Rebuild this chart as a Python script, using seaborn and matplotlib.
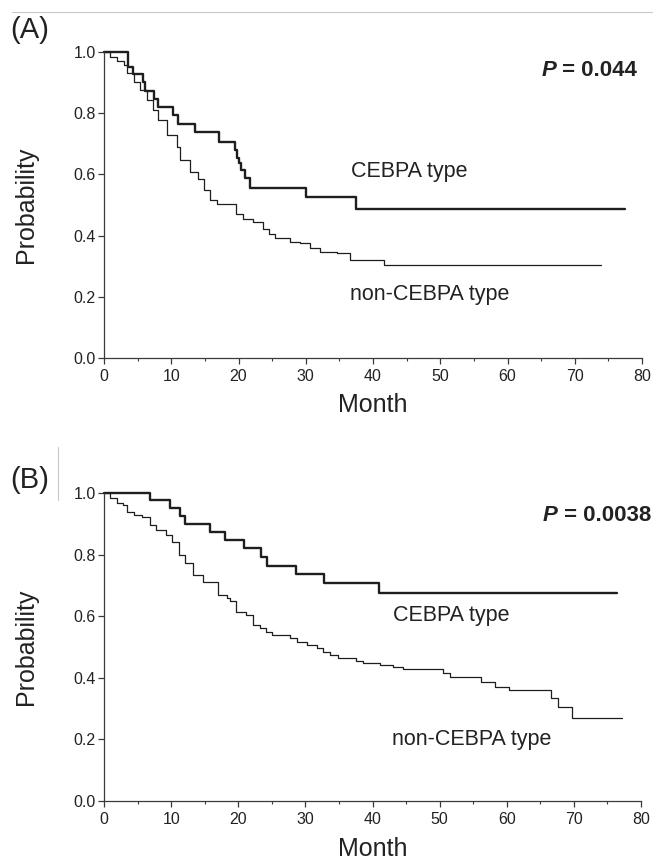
import matplotlib
matplotlib.use("Agg")
import matplotlib.pyplot as plt
import seaborn as sns
import pandas as pd
from matplotlib.lines import Line2D
from matplotlib.ticker import MultipleLocator

sns.set_style("ticks")
plt.rcParams["font.family"] = ["Liberation Sans", "DejaVu Sans"]

# ---------------- data ----------------
# Panel A
a_cebpa_t = [0, 3.5, 4.3, 5.8, 6.1, 7.5, 8.0, 10.2, 11.0, 13.5, 17.1, 19.5, 19.8,
             20.1, 20.4, 20.9, 21.7, 30.1, 37.4, 77.5]
a_cebpa_s = [1.0, 0.952, 0.928, 0.901, 0.874, 0.845, 0.821, 0.794, 0.766, 0.738,
             0.706, 0.680, 0.653, 0.637, 0.614, 0.587, 0.555, 0.527, 0.486, 0.486]

a_non_t = [0, 0.9, 1.9, 2.9, 3.4, 4.4, 5.4, 6.4, 7.3, 8.1, 9.3, 10.8, 11.3, 12.8,
           14.0, 14.8, 15.8, 16.8, 19.7, 20.7, 22.2, 23.7, 24.6, 25.4, 27.7, 29.2,
           30.7, 32.1, 34.6, 36.6, 41.6, 73.9]
a_non_s = [1.0, 0.985, 0.969, 0.958, 0.931, 0.903, 0.876, 0.843, 0.810, 0.778,
           0.729, 0.691, 0.647, 0.609, 0.585, 0.549, 0.517, 0.502, 0.472, 0.455,
           0.444, 0.422, 0.405, 0.391, 0.380, 0.377, 0.358, 0.347, 0.342, 0.320,
           0.304, 0.304]

# Panel B
b_cebpa_t = [0, 6.8, 9.8, 11.3, 12.1, 15.8, 18.0, 20.8, 23.4, 24.3, 28.6, 32.8,
             41.0, 76.4]
b_cebpa_s = [1.0, 0.978, 0.951, 0.926, 0.900, 0.874, 0.848, 0.821, 0.792, 0.765,
             0.737, 0.709, 0.675, 0.675]

b_non_t = [0, 0.9, 1.9, 2.9, 3.4, 4.4, 5.6, 6.8, 7.8, 9.3, 10.1, 11.1, 12.1, 13.3,
           14.8, 17.0, 18.3, 18.8, 19.7, 21.2, 22.2, 23.2, 24.2, 25.0, 27.7, 28.7,
           30.2, 31.7, 32.6, 33.6, 34.9, 37.6, 38.6, 41.1, 43.1, 44.5, 50.5, 51.5,
           56.2, 58.2, 60.4, 66.6, 67.6, 69.7, 77.2]
b_non_s = [1.0, 0.984, 0.968, 0.962, 0.940, 0.929, 0.924, 0.897, 0.881, 0.864,
           0.843, 0.799, 0.772, 0.734, 0.713, 0.669, 0.660, 0.650, 0.615, 0.604,
           0.572, 0.561, 0.550, 0.540, 0.529, 0.518, 0.507, 0.496, 0.485, 0.474,
           0.464, 0.455, 0.447, 0.442, 0.437, 0.428, 0.415, 0.404, 0.388, 0.372,
           0.361, 0.334, 0.305, 0.271, 0.271]

x_ticks = [0, 10, 20, 30, 40, 50, 60, 70, 80]
y_ticks = [0.0, 0.2, 0.4, 0.6, 0.8, 1.0]
y_tick_labels = ["0.0", "0.2", "0.4", "0.6", "0.8", "1.0"]
group_labels = ["CEBPA type", "non-CEBPA type"]
p_values = ["0.044", "0.0038"]
panel_labels = ["(A)", "(B)"]

# ---------------- figure ----------------
W, H = 662, 860
fig = plt.figure(figsize=(W / 100, H / 100), dpi=100)
fig.patch.set_facecolor("white")

axA = fig.add_axes([104 / W, 1 - 358 / H, 538 / W, 306 / H])
axB = fig.add_axes([104 / W, 1 - 801 / H, 537 / W, 307.7 / H])

LINE_COL = "#1e1e1e"
AX_COL = "#3a3a3a"
TXT_COL = "#222222"


def draw_panel(ax, tc, sc, tn, sn, pval, cebpa_pos, non_pos, p_pos):
    dfc = pd.DataFrame({"Month": tc, "Probability": sc})
    dfn = pd.DataFrame({"Month": tn, "Probability": sn})
    sns.lineplot(data=dfn, x="Month", y="Probability", ax=ax, estimator=None,
                 sort=False, drawstyle="steps-post", color=LINE_COL,
                 linewidth=0.9, clip_on=False)
    sns.lineplot(data=dfc, x="Month", y="Probability", ax=ax, estimator=None,
                 sort=False, drawstyle="steps-post", color=LINE_COL,
                 linewidth=1.7, clip_on=False)
    ax.set_xlim(0, 80)
    ax.set_ylim(0, 1.0)
    ax.set_xticks(x_ticks)
    ax.set_xticklabels([str(v) for v in x_ticks])
    ax.xaxis.set_minor_locator(MultipleLocator(5))
    ax.set_yticks(y_ticks)
    ax.set_yticklabels(y_tick_labels)
    sns.despine(ax=ax)
    for s in ("left", "bottom"):
        ax.spines[s].set_color(AX_COL)
        ax.spines[s].set_linewidth(0.9)
    ax.tick_params(axis="both", which="major", direction="out", length=4.5,
                   width=0.9, color=AX_COL, labelsize=11.5, labelcolor=TXT_COL)
    ax.tick_params(axis="x", which="major", pad=3.5)
    ax.tick_params(axis="y", which="major", pad=1.5)
    ax.tick_params(axis="x", which="minor", direction="out", length=2.2,
                   width=0.8, color=AX_COL)
    ax.set_xlabel("Month", fontsize=18, color=TXT_COL)
    ax.set_ylabel("Probability", fontsize=18, color=TXT_COL)
    ax.xaxis.set_label_coords(0.5, -0.155)
    ax.yaxis.set_label_coords(-0.145, 0.5)
    ax.xaxis.label.set_va("center")
    ax.yaxis.label.set_va("center")

    ax.text(cebpa_pos[0], cebpa_pos[1], group_labels[0], ha="left", va="center",
            fontsize=15.5, color=TXT_COL)
    ax.text(non_pos[0], non_pos[1], group_labels[1], ha="left", va="center",
            fontsize=15.5, color=TXT_COL)
    t = ax.text(p_pos[0], p_pos[1], " = " + pval, ha="right", va="center",
                fontsize=16, fontweight="bold", color=TXT_COL, clip_on=False)
    ax.annotate("P", xy=(0, 0.5), xycoords=t, ha="right", va="center",
                fontsize=16, fontweight="bold", fontstyle="italic",
                color=TXT_COL)


draw_panel(axA, a_cebpa_t, a_cebpa_s, a_non_t, a_non_s, p_values[0],
           (36.8, 0.608), (36.6, 0.206), (79.3, 0.938))
draw_panel(axB, b_cebpa_t, b_cebpa_s, b_non_t, b_non_s, p_values[1],
           (43.1, 0.604), (42.9, 0.201), (81.5, 0.929))

# panel letters
fig.text(10 / W, 1 - 30 / H, panel_labels[0], fontsize=21, ha="left",
         va="center", color=TXT_COL)
fig.text(10 / W, 1 - 480 / H, panel_labels[1], fontsize=21, ha="left",
         va="center", color=TXT_COL)

# scan artifacts (faint rules)
fig.add_artist(Line2D([12 / W, 652 / W], [1 - 12 / H, 1 - 12 / H],
                      transform=fig.transFigure, color="#c8c8c8", linewidth=0.8))
fig.add_artist(Line2D([58 / W, 58 / W], [1 - 447 / H, 1 - 500 / H],
                      transform=fig.transFigure, color="#c8c8c8", linewidth=0.8))

fig.savefig("out.png", dpi=100, facecolor="white")
